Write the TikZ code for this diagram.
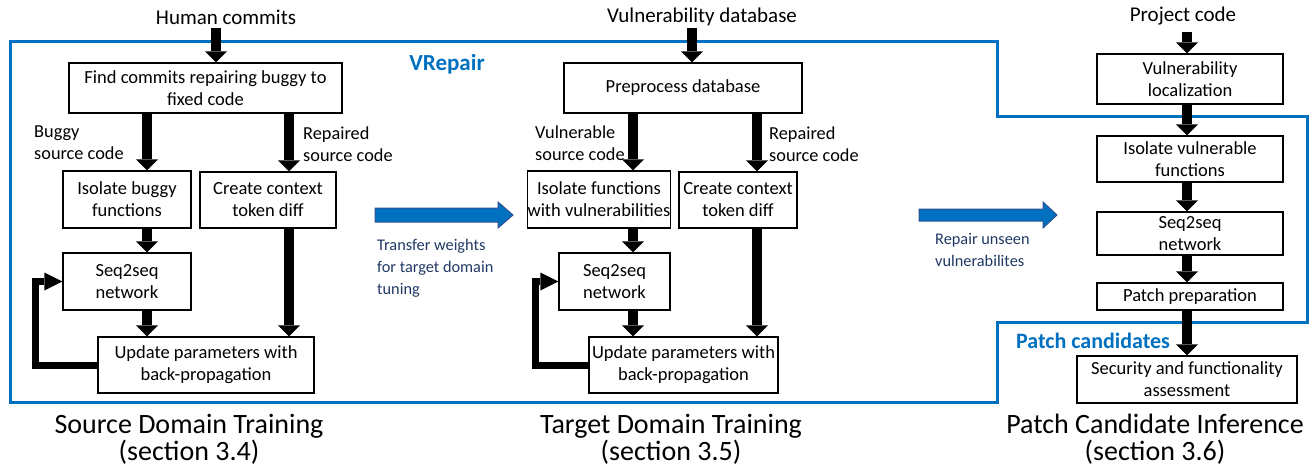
\documentclass[tikz,border=0pt]{standalone}
\usepackage{fontspec}
\setmainfont{Carlito}
\usetikzlibrary{arrows.meta,positioning,calc}

\definecolor{vblue}{HTML}{0070C0}
\definecolor{vnavy}{HTML}{203864}
\definecolor{vedge}{HTML}{2F528F}

\tikzset{
	box/.style={draw, line width=1.3pt, inner sep=0pt, align=center, font=\fontsize{18.5}{22}\selectfont},
	note/.style={anchor=west, align=left, inner sep=0pt, font=\fontsize{18.3}{22}\selectfont},
	source/.style={inner sep=0pt, font=\fontsize{21}{24}\selectfont},
	stage/.style={inner sep=0pt, align=center, font=\fontsize{28}{27}\selectfont},
	bluenote/.style={anchor=west, align=left, inner sep=0pt, text=vnavy, font=\fontsize{16.3}{22}\selectfont},
	fat/.style={line width=10pt, -{Triangle[width=22pt,length=11pt,line width=0pt]}},
	back/.style={line width=7pt, line join=miter, -{Triangle[width=18pt,length=18pt,line width=0pt]}},
	frame/.style={draw=vblue, line width=3pt, line join=miter},
	bluearrow/.style={fill=vblue, draw=vedge, line width=1pt, line join=miter},
}

\begin{document}
\begin{tikzpicture}[x=1pt, y=-1pt]
	\useasboundingbox (0,0) rectangle (1314,474);

	% VRepair frame
	\draw[frame] (10,41) -- (997,41) -- (997,116) -- (1307,116) -- (1307,322)
		-- (997,322) -- (997,402) -- (10,402) -- cycle;
	\node[inner sep=0pt, text=vblue, font=\fontsize{23}{26}\selectfont\bfseries] (vrepair) at (447,64) {VRepair};
	\node[inner sep=0pt, text=vblue, font=\fontsize{22}{26}\selectfont\bfseries] (patchcand) at (1093,341) {Patch candidates};

	% source domain
	\node[source] (in1) at (226,17) {Human commits};
	\node[box, minimum width=273pt, minimum height=50pt] (find) at (205.5,88) {Find commits repairing buggy to\\fixed code};
	\node[box, minimum width=128pt, minimum height=57pt] (iso1) at (127,199.5) {Isolate buggy\\functions};
	\node[box, minimum width=136pt, minimum height=56pt] (diff1) at (268,200) {Create context\\token diff};
	\node[box, minimum width=128pt, minimum height=57pt] (seq1) at (127,281.5) {Seq2seq\\network};
	\node[box, minimum width=216pt, minimum height=56pt] (upd1) at (206,365) {Update parameters with\\back-propagation};
	\node[note] (bug1) at (34,143) {Buggy\\source code};
	\node[note] (rep1) at (303,144) {Repaired\\source code};
	\node[stage] (title1) at (189,439) {Source Domain Training\\(section 3.4)};

	\coordinate (t1) at (216,28);
	\coordinate (a1) at (147,0);
	\coordinate (b1) at (289,0);
	\coordinate (f1) at (35,0);
	\draw[fat] (t1) -- (t1 |- find.north);
	\draw[fat] (find.south -| a1) -- (iso1.north -| a1);
	\draw[fat] (find.south -| b1) -- (diff1.north -| b1);
	\draw[fat] (iso1.south -| a1) -- (seq1.north -| a1);
	\draw[fat] (seq1.south -| a1) -- (upd1.north -| a1);
	\draw[fat] (diff1.south -| b1) -- (upd1.north -| b1);
	\draw[back] (upd1.west) -| (f1 |- seq1.west) -- (seq1.west);

	% transfer
	\draw[bluearrow] (375,208) -- ++(123,0) -- ++(0,-6) -- ++(15,13) -- ++(-15,13) -- ++(0,-6) -- ++(-123,0) -- cycle;
	\node[bluenote] (transfer) at (377,268) {Transfer weights\\for target domain\\tuning};

	% target domain
	\node[source] (in2) at (702,17) {Vulnerability database};
	\node[box, minimum width=238pt, minimum height=50pt] (prep) at (683,88) {Preprocess database};
	\node[box, minimum width=142pt, minimum height=57pt] (iso2) at (599,199.5) {Isolate functions\\with vulnerabilities};
	\node[box, minimum width=118pt, minimum height=56pt] (diff2) at (738,200) {Create context\\token diff};
	\node[box, minimum width=111pt, minimum height=57pt] (seq2) at (614.5,281.5) {Seq2seq\\network};
	\node[box, minimum width=189pt, minimum height=56pt] (upd2) at (683.5,365) {Update parameters with\\back-propagation};
	\node[note] (vul2) at (535,143) {Vulnerable\\source code};
	\node[note] (rep2) at (769,144) {Repaired\\source code};
	\node[stage] (title2) at (671,439) {Target Domain Training\\(section 3.5)};

	\coordinate (t2) at (692,28);
	\coordinate (a2) at (633,0);
	\coordinate (b2) at (757,0);
	\coordinate (f2) at (535,0);
	\draw[fat] (t2) -- (t2 |- prep.north);
	\draw[fat] (prep.south -| a2) -- (iso2.north -| a2);
	\draw[fat] (prep.south -| b2) -- (diff2.north -| b2);
	\draw[fat] (iso2.south -| a2) -- (seq2.north -| a2);
	\draw[fat] (seq2.south -| a2) -- (upd2.north -| a2);
	\draw[fat] (diff2.south -| b2) -- (upd2.north -| b2);
	\draw[back] (upd2.west) -| (f2 |- seq2.west) -- (seq2.west);

	% repair
	\draw[bluearrow] (919,209) -- ++(124,0) -- ++(0,-7) -- ++(14,13) -- ++(-14,13) -- ++(0,-7) -- ++(-124,0) -- cycle;
	\node[bluenote] (repair) at (935,250) {Repair unseen\\vulnerabilites};

	% inference
	\node[source] (in3) at (1183,16) {Project code};
	\node[box, minimum width=186pt, minimum height=50pt] (loc) at (1190,79) {Vulnerability\\localization};
	\node[box, minimum width=186pt, minimum height=46pt] (iso3) at (1190,159) {Isolate vulnerable\\functions};
	\node[box, minimum width=186pt, minimum height=43pt] (seq3) at (1190,233.5) {Seq2seq\\network};
	\node[box, minimum width=186pt, minimum height=27pt] (pat) at (1190,296.5) {Patch preparation};
	\node[box, minimum width=220pt, minimum height=47pt] (sec) at (1187,379.5) {Security and functionality\\assessment};
	\node[stage] (title3) at (1155,439) {Patch Candidate Inference\\(section 3.6)};

	\coordinate (t3) at (1187,32);
	\draw[fat] (t3) -- (t3 |- loc.north);
	\draw[fat] (loc.south -| t3) -- (iso3.north -| t3);
	\draw[fat] (iso3.south -| t3) -- (seq3.north -| t3);
	\draw[fat] (seq3.south -| t3) -- (pat.north -| t3);
	\draw[fat] (pat.south -| t3) -- (sec.north -| t3);
\end{tikzpicture}
\end{document}
